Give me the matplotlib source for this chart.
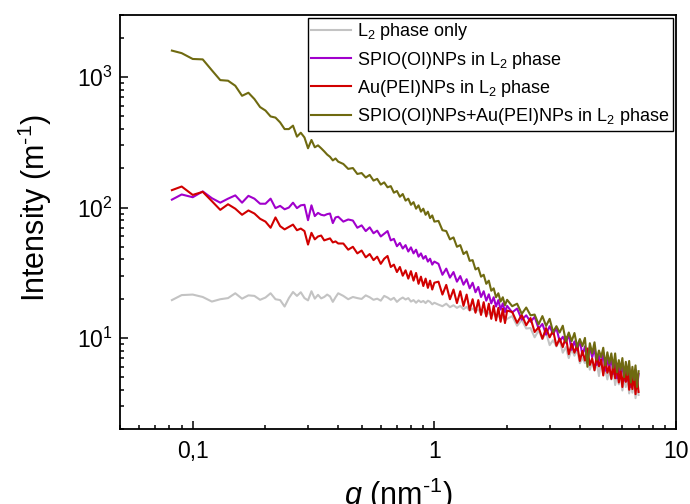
import numpy as np
import matplotlib
matplotlib.use('Agg')
import matplotlib.pyplot as plt
from matplotlib.ticker import LogLocator, NullFormatter

plt.rcParams['font.family'] = ['Liberation Sans', 'DejaVu Sans']
plt.rcParams['mathtext.fontset'] = 'custom'
plt.rcParams['mathtext.rm'] = 'Liberation Sans'
plt.rcParams['mathtext.it'] = 'Liberation Sans:italic'
plt.rcParams['mathtext.bf'] = 'Liberation Sans:bold'

## q grid (nm^-1)
q = [0.082, 0.09, 0.10, 0.11, 0.12, 0.13, 0.14, 0.15, 0.16, 0.17, 0.18, 0.19, 0.20, 0.21, 0.22, 0.23,
     0.24, 0.25, 0.26, 0.27, 0.28, 0.29, 0.30, 0.31, 0.32, 0.33, 0.34, 0.35, 0.36, 0.37, 0.38, 0.39, 0.40,
     0.42, 0.44, 0.46, 0.48, 0.50, 0.52, 0.54, 0.56, 0.58, 0.60, 0.62, 0.64, 0.66, 0.68, 0.70, 0.72,
     0.74, 0.76, 0.78, 0.80, 0.82, 0.84, 0.86, 0.88, 0.90, 0.92, 0.94, 0.96, 0.98, 1.00,
     1.04, 1.08, 1.12, 1.16, 1.20, 1.24, 1.28, 1.32, 1.36, 1.40, 1.44, 1.48, 1.52, 1.56, 1.60, 1.64,
     1.68, 1.72, 1.76, 1.80, 1.84, 1.88, 1.92, 1.96, 2.00,
     2.1, 2.2, 2.3, 2.4, 2.5, 2.6, 2.7, 2.8, 2.9, 3.0, 3.1, 3.2, 3.3, 3.4, 3.5, 3.6, 3.7, 3.8, 3.9, 4.0,
     4.1, 4.2, 4.3, 4.4, 4.5, 4.6, 4.7, 4.8, 4.9, 5.0, 5.1, 5.2, 5.3, 5.4, 5.5, 5.6, 5.7, 5.8, 5.9, 6.0,
     6.1, 6.2, 6.3, 6.4, 6.5, 6.6, 6.7, 6.8, 6.9, 7.0]

l2_only = [19.5, 21.3, 21.5, 20.6, 19.0, 19.8, 20.2, 22.0, 20.0, 21.2, 21.0, 19.6, 20.4, 22.0, 19.8, 19.5,
           17.4, 20.2, 22.5, 21.0, 22.4, 20.2, 19.4, 22.8, 20.0, 21.4, 20.1, 20.6, 21.5, 20.8, 18.9, 20.5, 22.0,
           21.0, 19.8, 20.6, 20.2, 19.9, 21.2, 20.5, 19.6, 20.0, 19.3, 21.0, 20.4, 19.6, 20.3, 18.9, 19.8,
           20.4, 19.7, 20.2, 19.0, 19.5, 18.6, 19.4, 18.8, 19.2, 18.5, 19.3, 18.9, 18.1, 18.6,
           18.0, 17.5, 18.3, 17.2, 17.8, 17.0, 17.6, 16.6, 17.3, 16.2, 16.8, 16.0, 16.5, 15.5, 16.2, 15.0,
           15.6, 14.8, 15.4, 14.4, 14.9, 14.0, 14.6, 13.6, 14.0,
           14.7, 12.4, 13.7, 11.8, 11.9, 10.1, 11.4, 9.8, 11.0, 8.8, 9.6, 8.6, 9.7, 7.7, 8.5, 7.0, 8.2, 7.3, 8.1, 6.4,
           7.0, 6.4, 7.5, 5.7, 6.6, 5.6, 6.5, 5.1, 6.6, 5.3, 5.7, 4.8, 5.9, 4.8, 5.9, 4.35, 5.2, 4.4, 5.4, 3.95,
           5.05, 4.2, 5.2, 3.75, 4.6, 3.8, 4.85, 3.45, 4.5, 3.65]

spio = [115, 126, 120, 133, 118, 109, 117, 124, 109, 123, 117, 107, 107, 117, 99, 103,
        97, 100, 109, 99, 104, 105, 80, 104, 86, 91, 88, 87, 89, 90, 76, 84, 85,
        78, 81, 79.5, 70, 73, 66, 70.5, 63.5, 66.5, 60, 63, 66, 56, 57.5, 50.5, 53.5,
        48.5, 51.5, 46, 49.5, 44.5, 47.5, 42, 44.5, 40.5, 42.5, 38.5, 40.5, 36.5, 38.5,
        37, 30.5, 34, 29, 32, 27, 29.8, 25.6, 28.2, 24, 26.5, 22.4, 24.6, 20.6, 22.8, 19.3,
        21.6, 18.4, 20.5, 17.4, 19.5, 16.5, 18.4, 15.8, 17.6,
        15.7, 16.8, 13.8, 14.9, 13.3, 14.5, 11.8, 12.8, 10.6, 12.3, 10.7, 11.9, 9.4, 10.2, 9.2, 10.6, 8.1, 9.4, 8.0, 9.6,
        7.35, 8.6, 6.75, 8.5, 7.1, 8.3, 6.2, 7.3, 6.25, 7.75, 5.6, 7.0, 5.85, 7.1, 5.3, 6.6, 4.9, 6.1, 5.2, 6.45,
        4.7, 6.0, 4.7, 5.95, 4.2, 5.45, 4.5, 5.7, 4.1, 5.3]

au_pei = [136, 145, 125, 132, 112, 96, 106, 98, 88, 95, 90, 82, 78, 70, 84, 72,
          68, 71, 74, 67, 69, 66, 52, 64, 57, 60, 61, 56, 57, 58, 54, 55, 53,
          53, 47.5, 50, 44.5, 46.8, 41.5, 44, 39.5, 42, 37, 40.5, 42.5, 35, 36.5, 32, 35,
          30, 33, 28.5, 32.5, 27.5, 31.5, 26, 29.5, 25, 28.5, 24.2, 27.5, 23.5, 26.5,
          27, 21.5, 25.5, 19.8, 23.5, 18.5, 22.8, 17.6, 21.5, 16.3, 19.8, 15.6, 19.5, 15.0, 18.8, 14.6,
          18.3, 14.0, 17.6, 13.6, 17.0, 13.3, 16.7, 13.0, 16.2,
          15.8, 13.05, 15.0, 12.5, 14.2, 11.1, 12.05, 9.85, 11.9, 10.1, 11.4, 8.7, 9.9, 8.5, 10.2, 7.5, 9.05, 7.7, 8.9, 6.65,
          7.95, 6.7, 8.3, 6.2, 6.95, 5.65, 7.35, 6.05, 6.8, 5.15, 7.0, 5.4, 6.05, 4.85, 6.3, 4.9, 6.35, 4.55, 5.55, 4.2,
          5.6, 4.6, 5.65, 4.0, 5.1, 4.05, 5.4, 3.7, 4.9, 3.85]

spio_au = [1600, 1530, 1380, 1370, 1130, 950, 940, 860, 720, 760, 680, 590, 555, 500, 490, 450,
           400, 400, 425, 350, 375, 345, 285, 330, 290, 300, 285, 270, 255, 245, 230, 238, 225,
           216, 198, 201, 181, 184, 170, 178, 161, 166, 150, 156, 143, 146, 130, 134, 121,
           127, 113, 117, 105, 110, 98, 104, 93, 98, 88, 93, 83, 87, 78,
           79, 67, 66, 57, 59, 50, 51.5, 44, 46, 39, 39.5, 33.5, 34.5, 29.5, 30.5, 26,
           27.5, 23, 24, 20.5, 22, 19, 20.5, 17.8, 19.6,
           17.5, 18.3, 15.3, 17.1, 14.9, 15.1, 12.7, 14.7, 12.35, 14.0, 11.1, 12.3, 11.0, 12.4, 9.45, 11.0, 9.45, 10.9, 8.55, 9.8,
           8.65, 10.0, 6.0, 9.1, 7.6, 9.25, 6.8, 8.0, 7.1, 8.4, 6.15, 7.75, 6.35, 7.6, 5.9, 7.6, 5.45, 6.75, 5.7, 7.0,
           5.0, 6.55, 5.2, 6.65, 4.55, 6.0, 4.75, 6.15, 4.2, 5.55]

series_labels = ['L$_2$ phase only', 'SPIO(OI)NPs in L$_2$ phase', 'Au(PEI)NPs in L$_2$ phase',
                 'SPIO(OI)NPs+Au(PEI)NPs in L$_2$ phase']
series_colors = ['#c3c3c3', '#a100cc', '#d10000', '#6f6a10']

fig = plt.figure(figsize=(6.9, 5.04), dpi=100)
ax = fig.add_axes([0.1739, 0.1488, 0.8058, 0.8214])

for y, lab, col in zip([l2_only, spio, au_pei, spio_au], series_labels, series_colors):
    ax.plot(q, y, color=col, lw=1.5, label=lab)

ax.set_xscale('log')
ax.set_yscale('log')
ax.set_xlim(0.05, 10)
ax.set_ylim(2, 3000)

ax.set_xticks([0.1, 1, 10])
ax.set_xticklabels(['0,1', '1', '10'])
ax.xaxis.set_minor_locator(LogLocator(base=10, subs=np.arange(2, 10)))
ax.xaxis.set_minor_formatter(NullFormatter())
ax.yaxis.set_minor_locator(LogLocator(base=10, subs=np.arange(2, 10)))
ax.yaxis.set_minor_formatter(NullFormatter())

ax.tick_params(which='both', direction='in', top=False, right=False, labelsize=16.5, width=1.1)
ax.tick_params(which='major', length=6)
ax.tick_params(which='minor', length=3)
ax.tick_params(axis='x', which='major', pad=8)
ax.tick_params(axis='y', which='major', pad=5)
for sp in ax.spines.values():
    sp.set_linewidth(1.3)

ax.set_xlabel('$q$ (nm$^{\\text{-}1}$)', fontsize=22)
ax.set_ylabel('Intensity (m$^{\\text{-}1}$)', fontsize=22)
ax.yaxis.set_label_coords(-0.118, 0.535)
ax.xaxis.set_label_coords(0.5, -0.112)

leg = ax.legend(loc='upper right', fontsize=13, frameon=True, fancybox=False, edgecolor='black',
                framealpha=1, handlelength=2.2, handletextpad=0.35, labelspacing=0.4,
                borderpad=0.2, borderaxespad=0.15)
leg.get_frame().set_linewidth(1.0)

plt.savefig('out.png', dpi=100)
plt.close()
